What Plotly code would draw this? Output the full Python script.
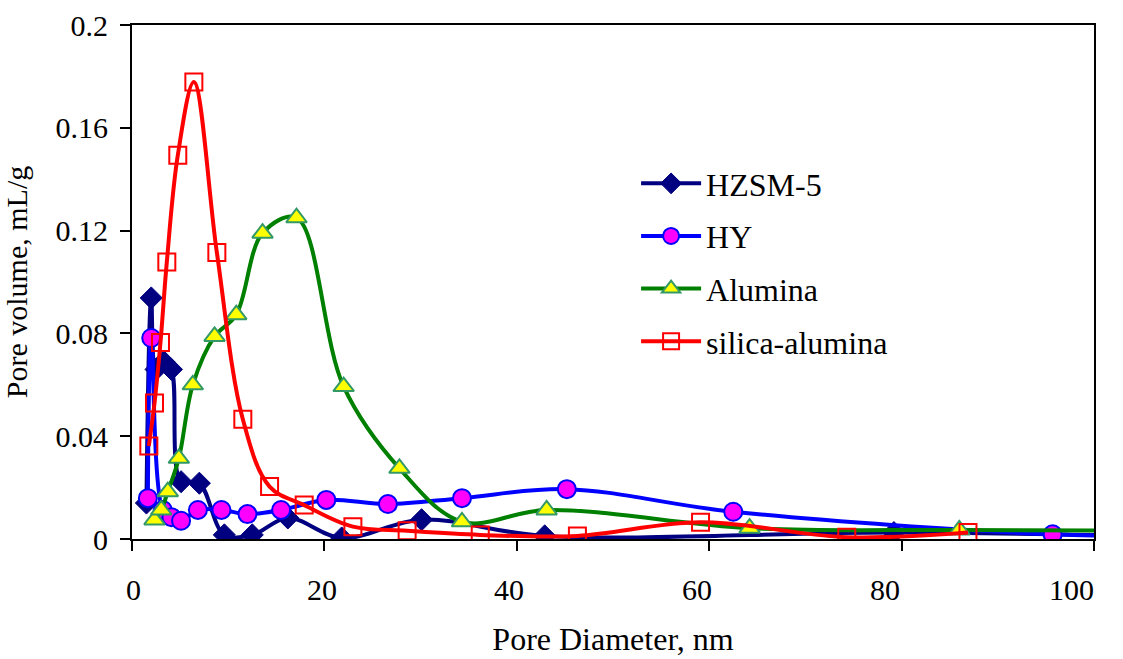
import plotly.graph_objects as go

# ---- data ----
hzsm5_x = [1.5, 2.0, 2.5, 3.3, 4.1, 5.1, 7.0, 9.6, 12.5, 16.2, 21.8, 30.1, 42.9, 79.2, 110]
hzsm5_y = [0.0140, 0.0938, 0.0660, 0.0690, 0.0660, 0.0223, 0.0217, 0.0016, 0.0016, 0.0082,
           0.0004, 0.0075, 0.0012, 0.0025, 0.0008]

hy_x = [1.65, 2.0, 3.2, 4.1, 5.1, 6.85, 9.3, 12.0, 15.5, 20.2, 26.6, 34.3, 45.2, 62.5, 95.7, 110]
hy_y = [0.0159, 0.0782, 0.0113, 0.0085, 0.0071, 0.0113, 0.0113, 0.0097, 0.0113, 0.0152,
        0.0136, 0.0159, 0.0194, 0.0106, 0.0018, 0.0012]

alumina_x = [2.34, 3.04, 3.72, 4.87, 6.32, 8.58, 10.84, 13.57, 17.1, 22.0, 27.8, 34.3, 43.1,
             64.2, 86.0, 110]
alumina_y = [0.0074, 0.0113, 0.0184, 0.0314, 0.0600, 0.0788, 0.0873, 0.1190, 0.1250, 0.0593,
             0.0275, 0.0067, 0.0113, 0.0042, 0.0035, 0.0032]

sa_x = [1.75, 2.34, 2.96, 3.62, 4.76, 6.43, 8.82, 11.52, 14.3, 17.9, 22.96, 28.6, 36.2, 46.3,
        59.1, 74.3, 86.9]
sa_y = [0.0362, 0.0529, 0.0765, 0.1078, 0.1493, 0.1778, 0.1115, 0.0466, 0.0204, 0.0132,
        0.0048, 0.0032, 0.0016, 0.0012, 0.0065, 0.0007, 0.0025]

x_ticks = [0, 20, 40, 60, 80, 100]
x_tick_text = ["0", "20", "40", "60", "80", "100"]
# label anchor positions as they appear in the original (slightly left of the ticks)
x_label_pos = [0.2, 19.7, 39.2, 58.7, 78.3, 97.7]
y_ticks = [0, 0.04, 0.08, 0.12, 0.16, 0.2]
y_tick_text = ["0", "0.04", "0.08", "0.12", "0.16", "0.2"]

FONT = "Liberation Serif"

fig = go.Figure()
fig.add_trace(go.Scatter(
    x=hzsm5_x, y=hzsm5_y, name="HZSM-5", mode="lines+markers", legendgroup="a",
    line=dict(color="#000080", width=4, shape="spline", smoothing=1),
    marker=dict(symbol="diamond", size=17, color="#000080", line=dict(color="#000080", width=1))))
fig.add_trace(go.Scatter(
    x=hy_x, y=hy_y, name="HY", mode="lines+markers", legendgroup="b",
    line=dict(color="#0000FF", width=4, shape="spline", smoothing=1),
    marker=dict(symbol="circle", size=18, color="#FF00FF", line=dict(color="#0000FF", width=2))))
fig.add_trace(go.Scatter(
    x=alumina_x, y=alumina_y, name="Alumina", mode="lines+markers", legendgroup="c",
    line=dict(color="#008000", width=4, shape="spline", smoothing=1),
    marker=dict(symbol="triangle-up", size=18, color="#FFFF00", line=dict(color="#339966", width=2))))
fig.add_trace(go.Scatter(
    x=sa_x, y=sa_y, name="silica-alumina", mode="lines+markers", legendgroup="d",
    line=dict(color="#FF0000", width=4, shape="spline", smoothing=1),
    marker=dict(symbol="square-open", size=17, color="#FF0000", line=dict(color="#FF0000", width=2))))

# x tick labels as text placed under the axis
for pos, txt in zip(x_label_pos, x_tick_text):
    fig.add_annotation(x=pos, xref="x", y=0, yref="paper", text=txt, showarrow=False,
                       xanchor="center", yanchor="top", yshift=-32,
                       font=dict(family=FONT, size=30, color="black"))

fig.update_layout(
    width=1123, height=659,
    margin=dict(l=132, r=29, t=25, b=120, autoexpand=False),
    paper_bgcolor="white", plot_bgcolor="white",
    font=dict(family=FONT, size=30, color="black"),
    showlegend=True,
    legend=dict(x=0.524, y=0.745, xanchor="left", yanchor="top",
                font=dict(family=FONT, size=32, color="black"),
                bgcolor="rgba(0,0,0,0)", tracegroupgap=8, itemwidth=60),
    xaxis=dict(range=[0, 100], tickvals=x_ticks, ticks="outside", ticklen=10, tickwidth=1.5,
               tickcolor="black", showline=True, linecolor="black", linewidth=2, mirror=True,
               showgrid=False, zeroline=False, showticklabels=False,
               title=dict(text="Pore Diameter, nm", font=dict(family=FONT, size=32, color="black"),
                          standoff=78)),
    yaxis=dict(range=[0, 0.2], tickvals=y_ticks, ticktext=y_tick_text, ticks="outside",
               ticklen=10, tickwidth=1.5, tickcolor="black", showline=True, linecolor="black",
               linewidth=2, mirror=True, showgrid=False, zeroline=False,
               tickfont=dict(family=FONT, size=30, color="black"), ticklabelstandoff=6,
               title=dict(text="Pore volume, mL/g", font=dict(family=FONT, size=30, color="black"),
                          standoff=20)),
)

fig.write_html("out.html")
